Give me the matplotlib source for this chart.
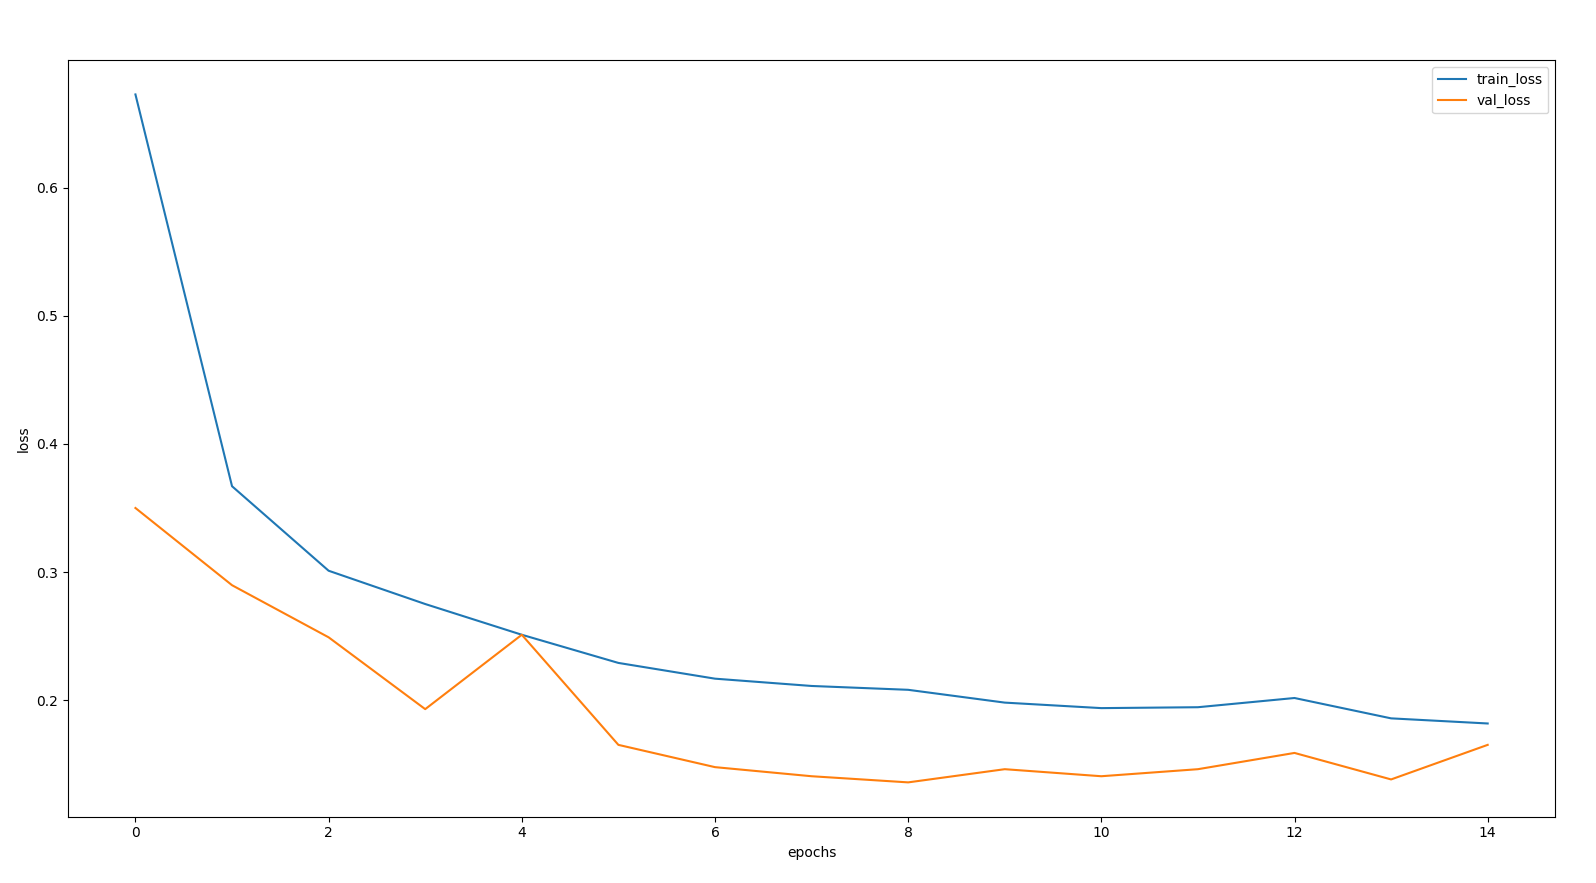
import matplotlib
matplotlib.use("Agg")
import matplotlib.pyplot as plt

epochs = list(range(15))
train_loss = [0.673, 0.367, 0.301, 0.275, 0.251, 0.229, 0.2167, 0.211, 0.208,
              0.198, 0.1937, 0.1944, 0.2016, 0.1857, 0.1817]
val_loss = [0.350, 0.2897, 0.249, 0.1929, 0.251, 0.165, 0.1476, 0.1405, 0.1357,
            0.146, 0.1405, 0.146, 0.1587, 0.138, 0.165]

fig = plt.figure(figsize=(15.96, 8.83), dpi=100)
ax = fig.add_subplot(111)
fig.subplots_adjust(left=0.0425, right=0.9745, top=0.932, bottom=0.075)
ax.plot(epochs, train_loss, label="train_loss")
ax.plot(epochs, val_loss, label="val_loss")
ax.set_xlabel("epochs")
ax.set_ylabel("loss")
ax.legend(loc="upper right")
fig.savefig("out.png", dpi=100)
